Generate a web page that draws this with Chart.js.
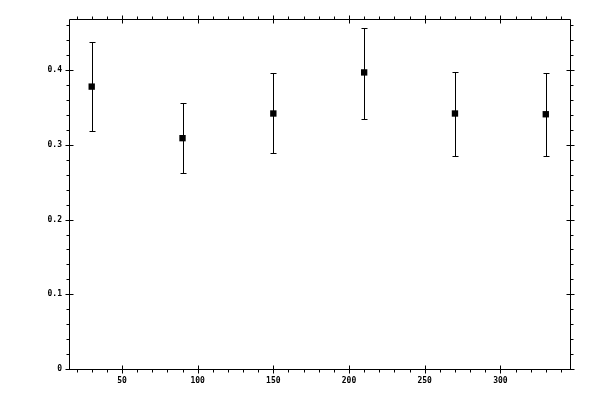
<!DOCTYPE html>
<html>
<head>
<meta charset="utf-8">
<script src="https://cdn.jsdelivr.net/npm/chart.js@4"></script>
<style>
  html, body { margin: 0; padding: 0; background: #fff; }
  #wrap { width: 600px; height: 400px; }
</style>
</head>
<body>
<div id="wrap"><canvas id="chart"></canvas></div>
<script>
// data
const xValues = [30, 90, 150, 210, 270, 330];
const yValues = [0.378, 0.309, 0.342, 0.397, 0.342, 0.341];
const yUpper = [0.438, 0.356, 0.396, 0.457, 0.398, 0.396];
const yLower = [0.318, 0.262, 0.289, 0.335, 0.285, 0.285];

const xTicks = [50, 100, 150, 200, 250, 300];
const xMinorTicks = [20, 30, 40, 60, 70, 80, 90, 110, 120, 130, 140, 160, 170, 180, 190,
  210, 220, 230, 240, 260, 270, 280, 290, 310, 320, 330, 340];
const yTicks = [0, 0.1, 0.2, 0.3, 0.4];
const yMinorTicks = [0.02, 0.04, 0.06, 0.08, 0.12, 0.14, 0.16, 0.18, 0.22, 0.24, 0.26, 0.28,
  0.32, 0.34, 0.36, 0.38, 0.42, 0.44, 0.46];

// frame, tick marks and error bars drawn through the scales
const framePlugin = {
  id: 'frame',
  afterDatasetsDraw(chart) {
    const ctx = chart.ctx;
    const xs = chart.scales.x, ys = chart.scales.y;
    const a = chart.chartArea;
    ctx.save();
    ctx.strokeStyle = '#000';
    ctx.lineWidth = 1;
    ctx.beginPath();
    ctx.rect(Math.round(a.left) + 0.5, Math.round(a.top) + 0.5,
      Math.round(a.right - a.left), Math.round(a.bottom - a.top));
    ctx.stroke();

    ctx.beginPath();
    const L = Math.round(a.left) + 0.5, R = Math.round(a.right) + 0.5;
    const T = Math.round(a.top) + 0.5, B = Math.round(a.bottom) + 0.5;
    xTicks.forEach(v => {
      const px = Math.round(xs.getPixelForValue(v)) + 0.5;
      ctx.moveTo(px, B - 4); ctx.lineTo(px, B + 4);
      ctx.moveTo(px, T - 4); ctx.lineTo(px, T + 4);
    });
    xMinorTicks.forEach(v => {
      const px = Math.round(xs.getPixelForValue(v)) + 0.5;
      ctx.moveTo(px, B); ctx.lineTo(px, B + 3);
      ctx.moveTo(px, T); ctx.lineTo(px, T - 3);
    });
    yTicks.forEach(v => {
      const py = Math.round(ys.getPixelForValue(v)) + 0.5;
      ctx.moveTo(L - 4, py); ctx.lineTo(L + 4, py);
      ctx.moveTo(R - 4, py); ctx.lineTo(R + 4, py);
    });
    yMinorTicks.forEach(v => {
      const py = Math.round(ys.getPixelForValue(v)) + 0.5;
      ctx.moveTo(L, py); ctx.lineTo(L - 3, py);
      ctx.moveTo(R, py); ctx.lineTo(R + 3, py);
    });
    ctx.stroke();

    // error bars
    ctx.beginPath();
    xValues.forEach((x, i) => {
      const px = Math.round(xs.getPixelForValue(x)) + 0.5;
      const top = Math.round(ys.getPixelForValue(yUpper[i])) + 0.5;
      const bot = Math.round(ys.getPixelForValue(yLower[i])) + 0.5;
      ctx.moveTo(px, top); ctx.lineTo(px, bot);
      ctx.moveTo(px - 3, top); ctx.lineTo(px + 3, top);
      ctx.moveTo(px - 3, bot); ctx.lineTo(px + 3, bot);
    });
    ctx.stroke();
    ctx.restore();
  }
};

const tickFont = { family: 'DejaVu Sans Mono', size: 8, weight: 'bold' };

new Chart(document.getElementById('chart'), {
  type: 'scatter',
  data: {
    datasets: [{
      data: xValues.map((x, i) => ({ x: x, y: yValues[i] })),
      pointStyle: 'rect',
      pointRadius: 4.5,
      pointHoverRadius: 4.5,
      borderWidth: 0,
      backgroundColor: '#000'
    }]
  },
  options: {
    responsive: true,
    maintainAspectRatio: false,
    animation: false,
    layout: { padding: { top: 19, right: 30, left: 0, bottom: 0 } },
    plugins: { legend: { display: false }, tooltip: { enabled: false } },
    scales: {
      x: {
        type: 'linear',
        min: 15,
        max: 346,
        afterBuildTicks: (scale) => { scale.ticks = xTicks.map(v => ({ value: v })); },
        afterFit: (scale) => { scale.height = 31; },
        grid: { display: false, drawTicks: false },
        border: { display: false },
        ticks: { color: '#000', font: tickFont, padding: 7, maxRotation: 0 }
      },
      y: {
        type: 'linear',
        min: 0,
        max: 0.4685,
        afterBuildTicks: (scale) => { scale.ticks = yTicks.map(v => ({ value: v })); },
        afterFit: (scale) => { scale.width = 69; },
        grid: { display: false, drawTicks: false },
        border: { display: false },
        ticks: { color: '#000', font: tickFont, padding: 7 }
      }
    }
  },
  plugins: [framePlugin]
});
</script>
</body>
</html>
